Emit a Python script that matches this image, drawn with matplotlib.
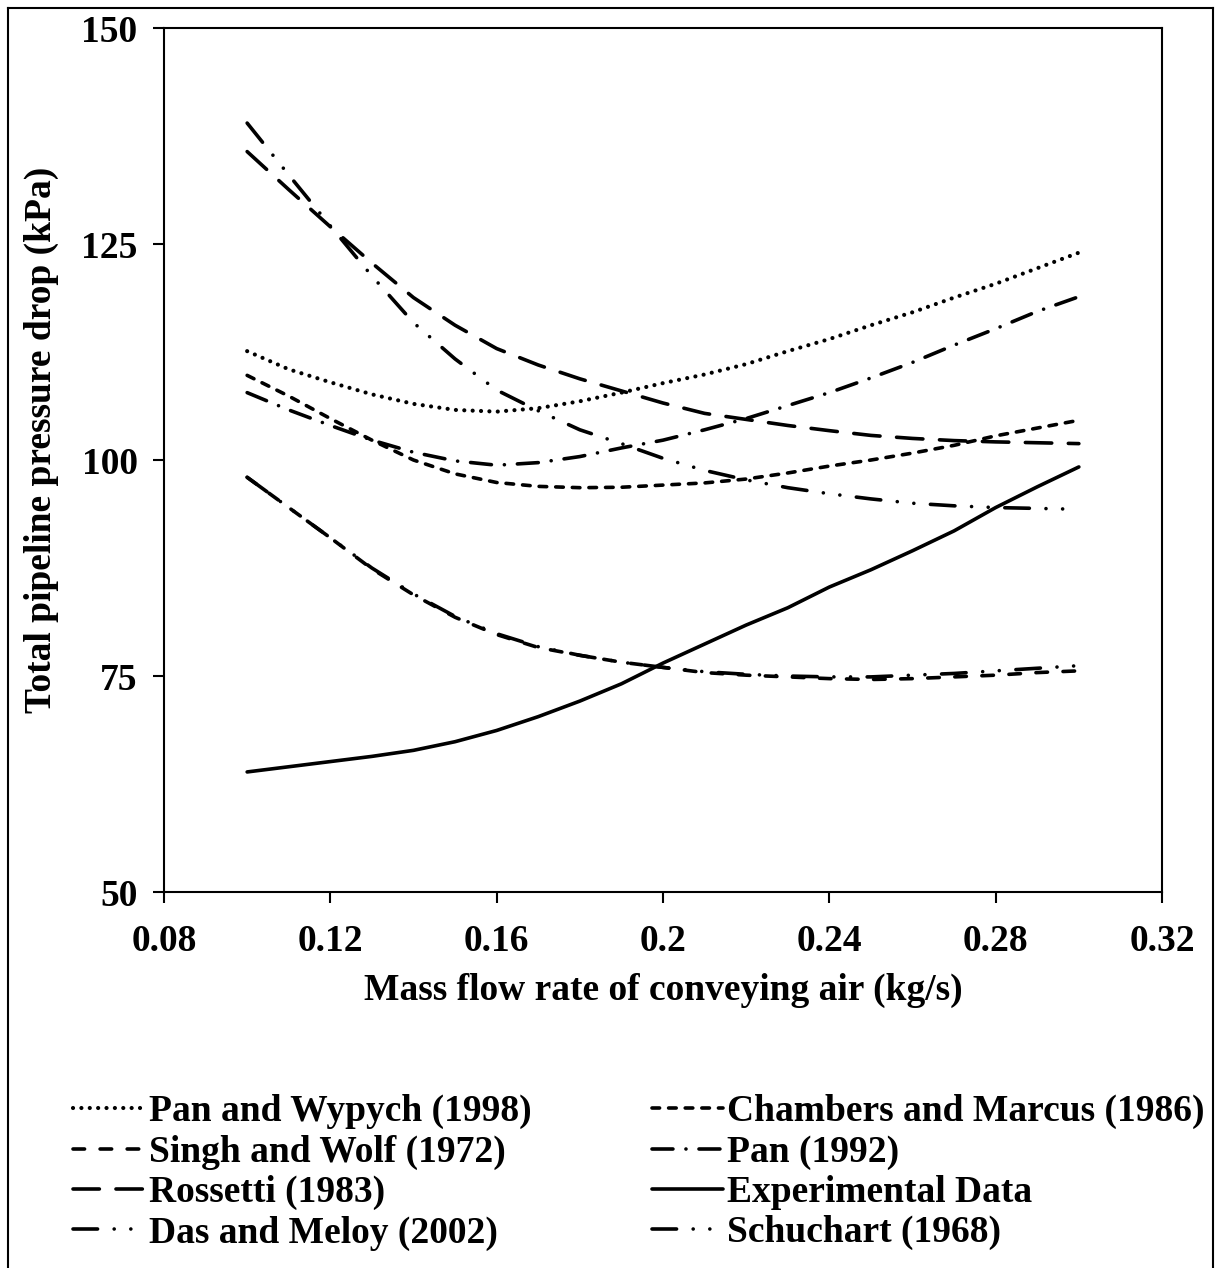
import matplotlib.pyplot as plt
from matplotlib.lines import Line2D
import numpy as np

plt.rcParams['font.family'] = 'Liberation Serif'
plt.rcParams['font.weight'] = 'bold'

# mass flow rate of conveying air (kg/s)
flow = [0.10, 0.11, 0.12, 0.13, 0.14, 0.15, 0.16, 0.17, 0.18, 0.19, 0.20,
        0.21, 0.22, 0.23, 0.24, 0.25, 0.26, 0.27, 0.28, 0.29, 0.30]

# total pipeline pressure drop (kPa)
pan_wypych = [112.6, 110.5, 109.0, 107.6, 106.5, 105.8, 105.6, 106.0, 106.8, 107.8, 108.9,
              109.9, 111.1, 112.6, 114.0, 115.6, 117.1, 118.8, 120.4, 122.2, 124.0]
chambers_marcus = [109.8, 107.4, 104.8, 102.3, 100.0, 98.4, 97.4, 96.95, 96.8, 96.85, 97.1,
                   97.35, 97.8, 98.5, 99.3, 100.0, 100.8, 101.7, 102.8, 103.7, 104.6]
singh_wolf = [98.0, 94.5, 91.0, 87.4, 84.4, 81.8, 79.8, 78.3, 77.4, 76.6, 76.0,
              75.4, 75.1, 74.9, 74.7, 74.6, 74.7, 74.9, 75.1, 75.4, 75.6]
pan_1992 = [107.8, 105.8, 104.0, 102.3, 100.9, 99.9, 99.4, 99.7, 100.4, 101.4, 102.3,
            103.5, 104.8, 106.3, 107.8, 109.5, 111.3, 113.3, 115.2, 117.2, 118.9]
rossetti = [135.7, 131.3, 127.0, 122.8, 118.8, 115.6, 112.9, 111.0, 109.4, 108.0, 106.6,
            105.4, 104.7, 104.0, 103.4, 102.85, 102.5, 102.25, 102.1, 102.0, 101.9]
experimental = [63.9, 64.5, 65.1, 65.7, 66.4, 67.4, 68.7, 70.3, 72.1, 74.1, 76.5,
                78.7, 80.9, 82.9, 85.3, 87.3, 89.5, 91.8, 94.5, 96.9, 99.2]
das_meloy = [139.0, 133.0, 127.1, 121.3, 115.9, 111.7, 108.1, 105.7, 103.5, 101.9, 100.2,
             98.8, 97.7, 96.8, 96.1, 95.5, 95.0, 94.7, 94.5, 94.4, 94.3]
schuchart = [98.0, 94.5, 91.0, 87.5, 84.5, 81.9, 79.9, 78.4, 77.4, 76.6, 76.0,
             75.5, 75.2, 75.0, 74.9, 74.9, 75.1, 75.3, 75.6, 75.9, 76.2]

xticks = [0.08, 0.12, 0.16, 0.2, 0.24, 0.28, 0.32]
xticklabels = ['0.08', '0.12', '0.16', '0.2', '0.24', '0.28', '0.32']
yticks = [50, 75, 100, 125, 150]

fig = plt.figure(figsize=(12.21, 12.68), dpi=100)
ax = fig.add_axes([0.1343, 0.2965, 0.8174, 0.6814])

lw = 2.6
ddot = (6.8, 4.6, 0.01, 4.6, 0.01, 4.6)
ax.plot(flow, pan_wypych, color='black', lw=3.0, ls=(0, (0.01, 2.0)), dash_capstyle='round',
        label='Pan and Wypych (1998)')
ax.plot(flow, singh_wolf, color='black', lw=lw, ls=(0, (3.2, 4.3)), dash_capstyle='round',
        label='Singh and Wolf (1972)')
ax.plot(flow, rossetti, color='black', lw=lw, ls=(0, (7.3, 4.6)), dash_capstyle='round',
        label='Rossetti (1983)')
ax.plot(flow, das_meloy, color='black', lw=lw, ls=(0, ddot), dash_capstyle='round',
        label='Das and Meloy (2002)')
ax.plot(flow, chambers_marcus, color='black', lw=lw, ls=(0, (2.1, 2.5)), dash_capstyle='round',
        label='Chambers and Marcus (1986)')
ax.plot(flow, pan_1992, color='black', lw=lw, ls=(0, (5.8, 3.6, 0.01, 3.6)), dash_capstyle='round',
        label='Pan (1992)')
ax.plot(flow, experimental, color='black', lw=lw, ls='-', solid_capstyle='round',
        label='Experimental Data')
ax.plot(flow, schuchart, color='black', lw=lw, ls=(0, ddot), dash_capstyle='round',
        label='Schuchart (1968)')

ax.set_xlim(0.08, 0.32)
ax.set_ylim(50, 150)
ax.set_xticks(xticks)
ax.set_xticklabels(xticklabels)
ax.set_yticks(yticks)
ax.tick_params(axis='x', pad=15)
ax.tick_params(axis='y', pad=11)
ax.tick_params(direction='out', length=8, width=1.5, labelsize=27)
for s in ax.spines.values():
    s.set_linewidth(1.5)
ax.set_xlabel('Mass flow rate of conveying air (kg/s)', fontsize=27,
              fontweight='bold', labelpad=10)
ax.set_ylabel('Total pipeline pressure drop (kPa)', fontsize=27, fontweight='bold')
ax.yaxis.set_label_coords(-0.105, 0.523)

leg = fig.legend(loc='upper left', bbox_to_anchor=(0.06, 0.137), ncol=2,
                 frameon=False, fontsize=27, handlelength=1.9, handletextpad=0.12,
                 columnspacing=3.2, labelspacing=0.14, borderpad=0, borderaxespad=0)
for t in leg.get_texts():
    t.set_fontweight('bold')

# outer border of the figure
for xs, ys in [([0.0065, 0.0065], [0.0, 0.994]), ([0.0065, 0.9935], [0.994, 0.994]),
               ([0.9935, 0.9935], [0.994, 0.0])]:
    fig.add_artist(Line2D(xs, ys, transform=fig.transFigure, color='black', lw=1.5))

fig.savefig('out.png', dpi=100)
